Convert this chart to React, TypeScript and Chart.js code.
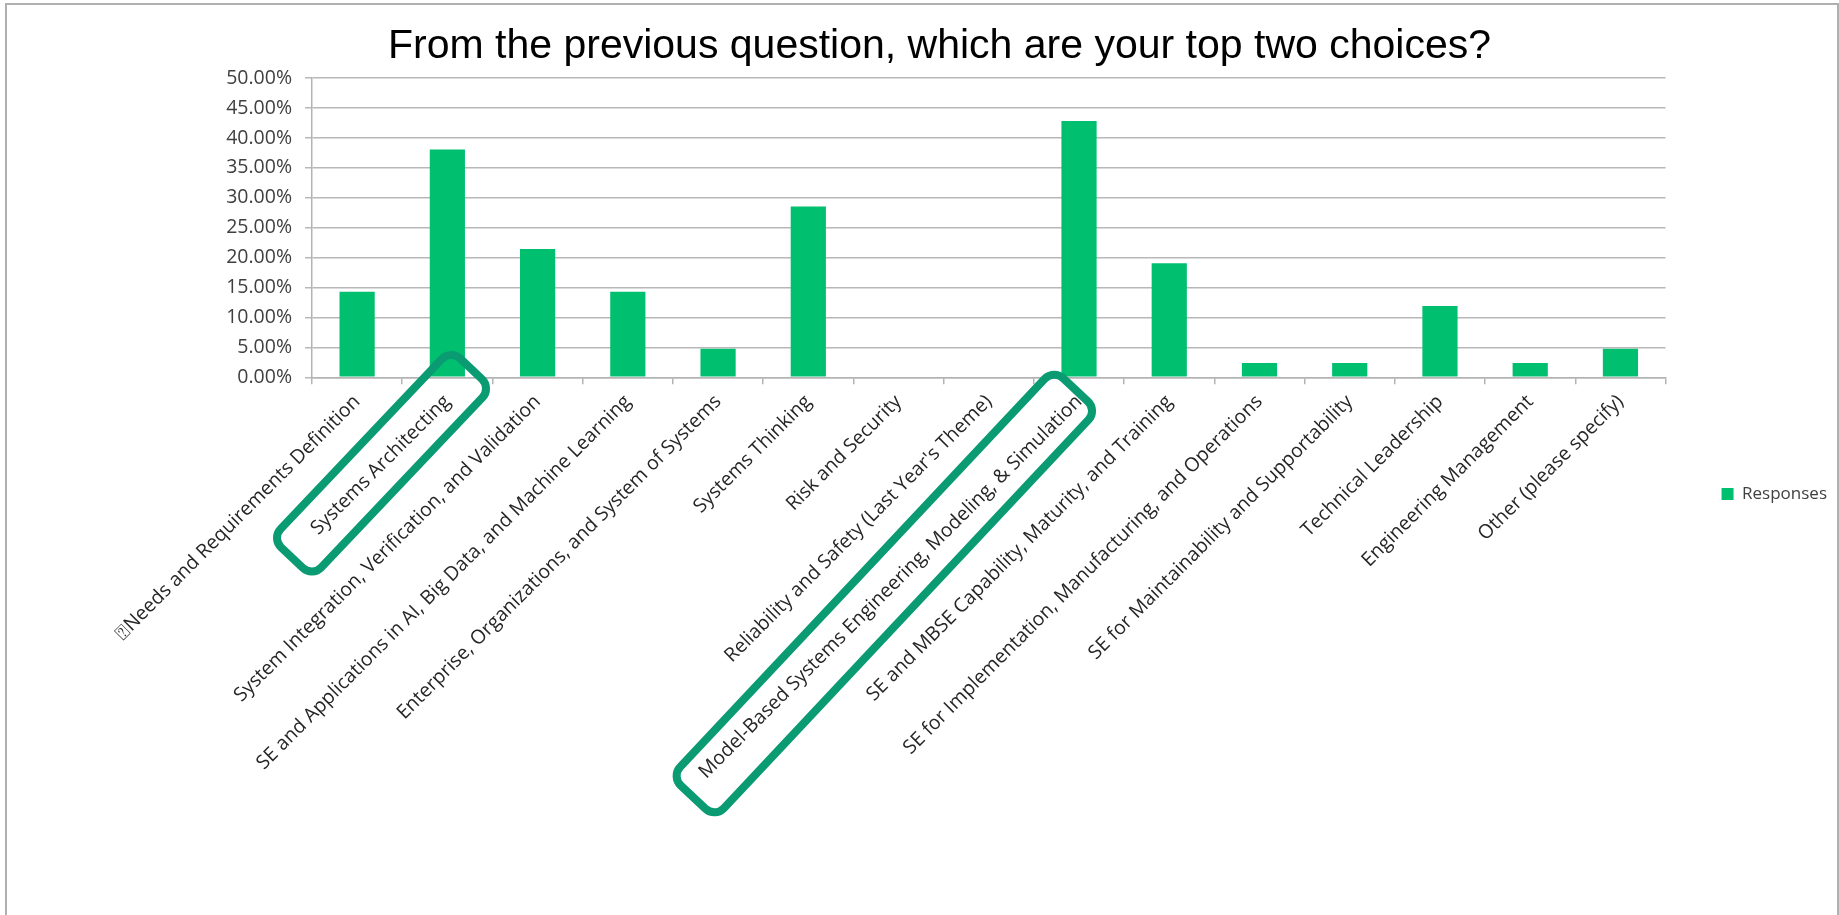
import React, { useEffect, useRef } from 'react';
import { Chart, registerables } from 'chart.js';

Chart.register(...registerables);

const titleText = 'From the previous question, which are your top two choices?';
const seriesName = 'Responses';
const categories = [
  '\u2370Needs and Requirements Definition',
  'Systems Architecting',
  'System Integration, Verification, and Validation',
  'SE and Applications in AI, Big Data, and Machine Learning',
  'Enterprise, Organizations, and System of Systems',
  'Systems Thinking',
  'Risk and Security',
  "Reliability and Safety (Last Year's Theme)",
  'Model-Based Systems Engineering, Modeling, & Simulation',
  'SE and MBSE Capability, Maturity, and Training',
  'SE for Implementation, Manufacturing, and Operations',
  'SE for Maintainability and Supportability',
  'Technical Leadership',
  'Engineering Management',
  'Other (please specify)',
];
const responses = [14.29, 38.1, 21.43, 14.29, 4.76, 28.57, 0, 0, 42.86, 19.05, 2.38, 2.38, 11.9, 2.38, 4.76];
const yMin = 0;
const yMax = 50;
const yStep = 5;
const highlightedIndexes = [1, 8];

const W = 1839;
const H = 915;
const PAD_LEFT = 42;
const PAD_BOTTOM = -73;
const PLOT_LEFT = 312;
const PLOT_BOTTOM = 377.3;
const X_FONT = { family: 'Open Sans', size: 19.5 };
const X_TICK_LEN = 7;
const X_TICK_PAD = 6;
const ANGLE = Math.PI / 4;

// style of the hand-drawn highlight boxes
const highlightStyle: Record<number, { ps: number; pe: number; off: number; h: number; deg: number }> = {
  1: { ps: 40, pe: 32, off: 5, h: 56, deg: 46.5 },
  8: { ps: 28, pe: -2, off: 6, h: 60, deg: 46.8 },
};

const highlightPlugin = {
  id: 'highlightBoxes',
  afterDraw(chart: any) {
    const xs = chart.scales.x;
    const ctx = chart.ctx;
    ctx.save();
    ctx.font = `${X_FONT.size}px "${X_FONT.family}"`;
    const ux = Math.cos(ANGLE);
    const uy = -Math.sin(ANGLE);
    const vx = Math.sin(ANGLE);
    const vy = Math.cos(ANGLE);
    highlightedIndexes.forEach((i) => {
      const label = categories[i];
      const w = ctx.measureText(label).width;
      const ax = xs.getPixelForTick(i);
      const ay = xs.top + X_TICK_LEN + X_TICK_PAD;
      const st = highlightStyle[i];
      const len = w + st.ps + st.pe;
      const shift = -w / 2 + (st.pe - st.ps) / 2;
      const cx = ax + ux * shift + vx * st.off;
      const cy = ay + uy * shift + vy * st.off;
      ctx.save();
      ctx.translate(cx, cy);
      ctx.rotate((-st.deg * Math.PI) / 180);
      ctx.beginPath();
      ctx.roundRect(-len / 2, -st.h / 2, len, st.h, 13);
      ctx.lineWidth = 8;
      ctx.strokeStyle = '#0a9b73';
      ctx.stroke();
      ctx.restore();
    });
    ctx.restore();
  },
};

export default function App() {
  const ref = useRef<HTMLCanvasElement | null>(null);
  useEffect(() => {
    if (!ref.current) return;
    const chart = new Chart(ref.current, {
      type: 'bar',
      data: {
        labels: categories,
        datasets: [
          {
            label: seriesName,
            data: responses,
            backgroundColor: '#00bf6f',
            borderWidth: 0,
            barPercentage: 0.39,
            categoryPercentage: 1,
          },
        ],
      },
      options: {
        responsive: false,
        animation: false,
        layout: { padding: { left: PAD_LEFT, right: 2, top: 0, bottom: PAD_BOTTOM } },
        scales: {
          x: {
            offset: true,
            grid: {
              offset: true,
              drawOnChartArea: false,
              drawTicks: true,
              tickLength: X_TICK_LEN,
              color: '#b3b3b3',
              lineWidth: 1.5,
            },
            border: { display: true, color: '#b3b3b3', width: 1.5 },
            ticks: {
              autoSkip: false,
              maxRotation: 45,
              minRotation: 45,
              padding: X_TICK_PAD,
              color: '#262626',
              font: X_FONT,
            },
            afterFit: (s: any) => {
              s.height = H - PAD_BOTTOM - PLOT_BOTTOM;
            },
          },
          y: {
            min: yMin,
            max: yMax,
            grid: { color: '#b8b8b8', lineWidth: 1.5, tickLength: 7 },
            border: { display: true, color: '#b3b3b3', width: 1.5 },
            ticks: {
              stepSize: yStep,
              padding: 13,
              color: '#404040',
              font: { family: 'Open Sans', size: 19.5 },
              callback: (v: any) => Number(v).toFixed(2) + '%',
            },
            afterFit: (s: any) => {
              s.width = PLOT_LEFT - PAD_LEFT;
            },
          },
          gap: {
            type: 'linear',
            position: 'right',
            display: true,
            grid: { display: false },
            border: { display: false },
            ticks: { display: false },
            afterFit: (s: any) => {
              s.width = 46;
            },
          },
        },
        plugins: {
          title: {
            display: true,
            text: titleText,
            color: '#000000',
            font: { family: 'Liberation Sans', size: 41, weight: 'normal' },
            padding: { top: 22, bottom: 7 },
          },
          legend: {
            position: 'right',
            labels: {
              boxWidth: 12,
              boxHeight: 12,
              padding: 10,
              color: '#404040',
              font: { family: 'Open Sans', size: 17 },
            },
          },
          tooltip: { enabled: false },
        },
      } as any,
      plugins: [highlightPlugin],
    });
    return () => chart.destroy();
  }, []);

  return (
    <div style={{ position: 'fixed', left: 0, top: 0, width: W, height: H, background: '#fff', overflow: 'hidden' }}>
      <canvas ref={ref} width={W} height={H} style={{ position: 'absolute', left: 0, top: 0, width: W, height: H }} />
      <div
        style={{
          position: 'absolute',
          left: 5,
          top: 3,
          width: 1834,
          height: 1000,
          boxSizing: 'border-box',
          border: '2px solid #b0b0b0',
          borderBottom: 'none',
          pointerEvents: 'none',
        }}
      />
    </div>
  );
}
